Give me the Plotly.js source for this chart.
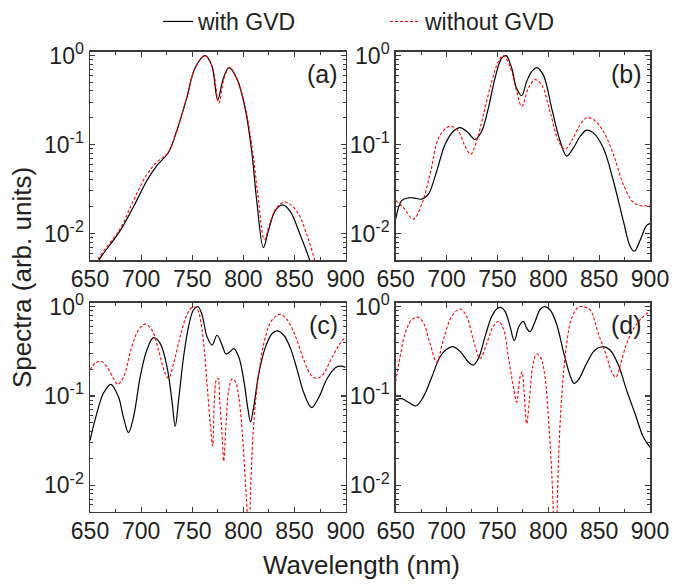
<!DOCTYPE html>
<html>
<head>
<meta charset="utf-8">
<script src="https://cdn.plot.ly/plotly-3.0.1.min.js"></script>
<style>html,body{margin:0;padding:0;background:#fff;}#chart{width:688px;height:586px;}</style>
</head>
<body>
<div id="chart"></div>
<script>
// ---- Data (wavelength nm, spectra arb. units) ----
const seriesNames = ["with GVD", "without GVD"];
const panelLabels = ["(a)", "(b)", "(c)", "(d)"];
const xTickVals = [650, 700, 750, 800, 850, 900];
const yTickVals = [0.01, 0.1, 1];
const yTickText = ["10<sup>-2</sup>", "10<sup>-1</sup>", "10<sup>0</sup>"];
const yMinorVals = [0.006,0.007,0.008,0.009,0.02,0.03,0.04,0.05,0.06,0.07,0.08,0.09,0.2,0.3,0.4,0.5,0.6,0.7,0.8,0.9];

// (a)
const aWithX = [655,659.8,679.3,695.6,705.4,715.2,726.6,734.7,744.5,752.7,762.4,769,774.8,780.4,785.9,793.4,801.6,808.1,813,819.5,824.4,830.9,838.1,845.6,855.3,864.5,870];
const aWithY = [0.0042,0.00525,0.0107,0.0234,0.0389,0.0575,0.0813,0.141,0.331,0.724,1.0,0.776,0.318,0.556,0.733,0.556,0.257,0.0841,0.0234,0.00692,0.0107,0.0178,0.0209,0.0178,0.00977,0.00513,0.00316];
const aWithoutX = [656,658.1,679.3,692.4,705.4,715.2,726.6,734.7,744.5,752.7,762.4,769.5,776,781,786.2,793.6,802,809,814.5,820.5,825.5,832,840.7,852.1,861.9,869.4,874];
const aWithoutY = [0.00398,0.00513,0.0112,0.0234,0.0457,0.0631,0.0813,0.141,0.331,0.724,1.0,0.759,0.292,0.55,0.733,0.556,0.257,0.0841,0.0251,0.00851,0.0126,0.0191,0.0226,0.0178,0.00977,0.00513,0.00316];

// (b)
const bWithX = [650,655.9,662.5,667.4,675.6,682.1,690.3,698.5,706.7,713.2,721.4,728,734.5,741.1,747.6,754.2,758.5,764,768.9,773.9,778.8,783.7,788.6,795.2,803.3,811.5,818.1,824.6,831.2,837.7,844.3,854.1,864,873.8,880.3,884.6,890.2,896.7,900];
const bWithY = [0.0145,0.0234,0.0251,0.0251,0.0243,0.0275,0.0501,0.1,0.141,0.155,0.135,0.114,0.141,0.257,0.556,0.933,1.0,0.724,0.427,0.355,0.513,0.661,0.733,0.603,0.257,0.110,0.0741,0.0912,0.123,0.145,0.135,0.0912,0.0389,0.0138,0.00724,0.00631,0.00832,0.0123,0.0129];
const bWithoutX = [650,657.5,667.4,675.6,683.7,692,700.1,705,711.6,718.2,723.7,729.6,736.2,744.4,750.9,755.8,762.4,768.9,773.9,780.4,787,793.5,801.7,809.9,816.4,823,831.2,837.7,844.3,854.1,864,873.8,883.6,891.8,900];
const bWithoutY = [0.0234,0.0195,0.0145,0.0214,0.0457,0.117,0.155,0.160,0.141,0.0955,0.0776,0.110,0.216,0.513,0.851,1.0,0.75,0.398,0.269,0.427,0.537,0.468,0.234,0.110,0.0881,0.110,0.166,0.2,0.191,0.141,0.0776,0.0355,0.0224,0.0204,0.0209];

// (c)
const cWithX = [650,656.5,663.1,670.3,677.8,682.7,687.6,692.5,699,705.6,712.1,718.6,725.2,730.1,733.3,736.6,741.5,746.4,751.3,755.6,759.5,764.4,769.3,774.2,779.1,783,787.3,790.5,795.4,800.3,804.6,806.9,810.1,815,821.6,828.1,833,839.5,846.1,852.6,859.2,866.7,873.9,882,890.2,895.1,900];
const cWithY = [0.0316,0.0631,0.107,0.135,0.0977,0.0575,0.0389,0.0575,0.162,0.327,0.451,0.389,0.214,0.0891,0.0457,0.0891,0.275,0.603,0.925,1.0,0.813,0.462,0.372,0.479,0.372,0.295,0.316,0.339,0.275,0.151,0.0692,0.0513,0.0759,0.178,0.355,0.501,0.537,0.479,0.339,0.195,0.107,0.0741,0.0977,0.158,0.209,0.216,0.209];
const cWithoutX = [650,654.9,660.5,666.3,672.9,677.1,682.7,690.8,697.4,703.9,710.5,717,723.5,726.8,731.7,738.2,744.8,750.7,755.2,758.5,761.8,764.4,767.6,769.9,771.6,773.5,775.2,776.8,779.1,780.7,783,785.6,788.9,792.2,795.4,798.7,801.3,803.6,805,806.2,807.5,810.1,815,821.6,828.1,835.6,842.8,851,859.2,866.3,871.6,877.1,885.3,893.5,900];
const cWithoutY = [0.195,0.232,0.245,0.214,0.158,0.135,0.162,0.355,0.55,0.638,0.55,0.327,0.178,0.158,0.232,0.462,0.813,1.0,0.925,0.661,0.327,0.138,0.049,0.0275,0.0891,0.151,0.158,0.0891,0.038,0.0186,0.049,0.115,0.155,0.145,0.0977,0.0407,0.0145,0.0049,0.001,0.00398,0.0123,0.049,0.178,0.462,0.713,0.82,0.713,0.462,0.251,0.17,0.158,0.17,0.251,0.372,0.462];

// (d)
const dWithX = [650,655.9,662.5,670,677.2,685.4,693.6,700.1,706,713.2,721.4,726.3,731.3,737.8,744.4,749.3,753.2,757.5,762.4,766.6,771.2,775.5,778.8,782,787,791.9,796.1,801.7,808.3,814.8,821.4,825.3,829.6,837.7,845.9,854.1,860.7,868.9,877.1,885.3,893.4,900];
const dWithY = [0.0912,0.0933,0.0851,0.0776,0.0977,0.162,0.275,0.333,0.357,0.316,0.24,0.222,0.263,0.462,0.776,0.942,0.982,0.885,0.603,0.417,0.603,0.684,0.575,0.525,0.684,0.925,1.0,0.925,0.631,0.316,0.17,0.138,0.151,0.232,0.327,0.357,0.327,0.222,0.115,0.0631,0.0347,0.0266];
const dWithoutX = [650,654.3,659.2,665.7,671.6,677.2,683.7,690.3,696.9,705,713.2,719.8,726.3,732.9,739.5,746,750.9,755.8,760.7,765.7,768.9,772.2,774.2,776.1,778.8,781.4,784.7,788.6,792.9,796.8,800.1,803.3,805.6,807,808.3,809.9,813.2,818.1,823,829.6,834.5,841,849.2,857.4,862.3,866.3,870.5,877.1,885.3,893.4,900];
const dWithoutY = [0.145,0.275,0.501,0.713,0.764,0.661,0.389,0.24,0.427,0.776,0.942,0.776,0.427,0.263,0.389,0.603,0.684,0.575,0.275,0.126,0.0851,0.162,0.186,0.115,0.049,0.0891,0.214,0.295,0.263,0.162,0.0575,0.0145,0.00316,0.001,0.00316,0.0174,0.0977,0.389,0.745,0.99,1.0,0.925,0.501,0.275,0.186,0.162,0.214,0.389,0.603,0.776,0.885];

const panels = [
  {w:[aWithX,aWithY], wo:[aWithoutX,aWithoutY]},
  {w:[bWithX,bWithY], wo:[bWithoutX,bWithoutY]},
  {w:[cWithX,cWithY], wo:[cWithoutX,cWithoutY]},
  {w:[dWithX,dWithY], wo:[dWithoutX,dWithoutY]}
];

const W = 688, H = 586;
const FONT = "Liberation Sans, Arial, sans-serif";
const TXT = "#231f20";
const AX = "#3a3a3a";

const traces = [];
panels.forEach((p, i) => {
  const xa = i === 0 ? "x" : "x" + (i + 1);
  const ya = i === 0 ? "y" : "y" + (i + 1);
  traces.push({x: p.w[0], y: p.w[1], xaxis: xa, yaxis: ya, type: "scatter", mode: "lines",
    name: seriesNames[0], legendgroup: "w", showlegend: i === 0,
    line: {color: "#000000", width: 1.2, shape: "spline", smoothing: 1}});
  traces.push({x: p.wo[0], y: p.wo[1], xaxis: xa, yaxis: ya, type: "scatter", mode: "lines",
    name: seriesNames[1], legendgroup: "wo", showlegend: i === 0,
    line: {color: "#ff0000", width: 1.1, dash: "3px,2px", shape: "spline", smoothing: 1}});
});

const colDom = [[90 / W, 345.7 / W], [395.7 / W, 650 / W]];
const rowDom = [[(H - 259) / H, (H - 50) / H], [(H - 511.7) / H, (H - 302) / H]];

function xaxis(col, row, anchor) {
  return {domain: colDom[col], anchor: anchor, range: [650, 900], type: "linear",
    tickmode: "array", tickvals: xTickVals, ticks: "inside", ticklen: 5, tickwidth: 1.2, tickcolor: AX,
    minor: {dtick: 25, tick0: 650, ticks: "inside", ticklen: 3, tickwidth: 1, tickcolor: AX},
    showline: true, linecolor: AX, linewidth: 1.5, mirror: "ticks", showgrid: false, zeroline: false,
    ticklabelstandoff: -2,
    tickfont: {family: FONT, size: 23, color: TXT}, fixedrange: true};
}
function yaxis(col, row, anchor) {
  return {domain: rowDom[row], anchor: anchor, type: "log", range: [-2.3, 0.042],
    tickmode: "array", tickvals: yTickVals, ticktext: yTickText,
    ticks: "inside", ticklen: 5, tickwidth: 1.2, tickcolor: AX,
    minor: {tickmode: "array", tickvals: yMinorVals, ticks: "inside", ticklen: 3, tickwidth: 1, tickcolor: AX},
    showline: true, linecolor: AX, linewidth: 1.5, mirror: "ticks", showgrid: false, zeroline: false,
    tickfont: {family: FONT, size: 23, color: TXT}, fixedrange: true};
}

const layout = {
  width: W, height: H, margin: {l: 0, r: 0, t: 0, b: 0},
  paper_bgcolor: "#ffffff", plot_bgcolor: "#ffffff",
  font: {family: FONT, color: TXT},
  showlegend: true,
  legend: {orientation: "h", x: 158 / W, xanchor: "left", y: 1 + 2 / H, yanchor: "top",
    font: {family: FONT, size: 23, color: TXT}, entrywidth: 182, entrywidthmode: "pixels",
    bgcolor: "rgba(0,0,0,0)", borderwidth: 0, itemclick: false, itemdoubleclick: false},
  xaxis: xaxis(0, 0, "y"), yaxis: yaxis(0, 0, "x"),
  xaxis2: xaxis(1, 0, "y2"), yaxis2: yaxis(1, 0, "x2"),
  xaxis3: xaxis(0, 1, "y3"), yaxis3: yaxis(0, 1, "x3"),
  xaxis4: xaxis(1, 1, "y4"), yaxis4: yaxis(1, 1, "x4"),
  annotations: [
    {text: "Wavelength (nm)", xref: "paper", yref: "paper", x: 361 / W, y: 1 - 565 / H, xanchor: "center", yanchor: "middle",
      showarrow: false, font: {family: FONT, size: 26, color: TXT}},
    {text: "Spectra (arb. units)", xref: "paper", yref: "paper", x: 22 / W, y: 1 - 277 / H, xanchor: "center", yanchor: "middle",
      textangle: -90, showarrow: false, font: {family: FONT, size: 26, color: TXT}}
  ]
};
panelLabels.forEach((t, i) => {
  const xs = i === 0 ? "x" : "x" + (i + 1);
  const ys = i === 0 ? "y" : "y" + (i + 1);
  layout.annotations.push({text: t, xref: xs + " domain", yref: ys + " domain", x: 0.978, y: 0.895,
    xanchor: "right", yanchor: "middle", showarrow: false, font: {family: FONT, size: 25, color: TXT}});
});

Plotly.newPlot("chart", traces, layout, {displayModeBar: false, staticPlot: true});
</script>
</body>
</html>
